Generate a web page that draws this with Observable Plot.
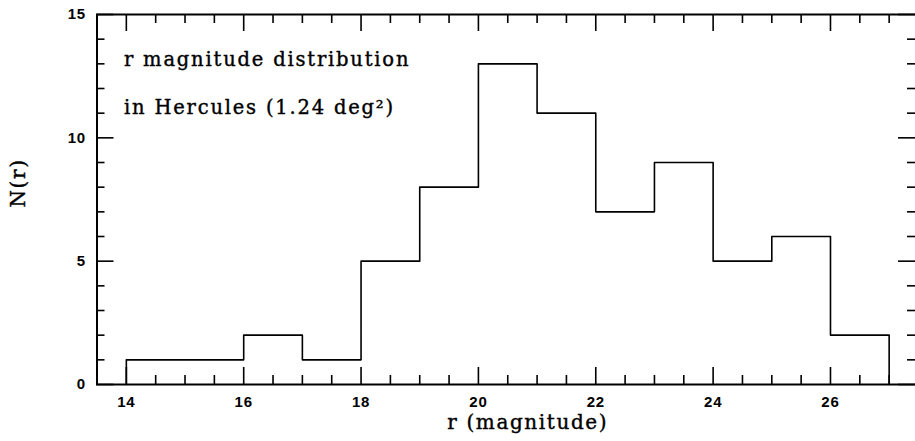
<!DOCTYPE html>
<html>
<head>
<meta charset="utf-8">
<script src="https://cdn.jsdelivr.net/npm/d3@7"></script>
<script src="https://cdn.jsdelivr.net/npm/@observablehq/plot@0.6"></script>
<style>
  html, body { margin: 0; padding: 0; background: #fff; }
  svg { display: block; }
  .note text { letter-spacing: 1.8px; }
  .atitle text { letter-spacing: 1.6px; }
  .tlab text { letter-spacing: 0.8px; }
</style>
</head>
<body>
<div id="chart"></div>
<script>
// Histogram bins (left edges, width 1 mag) and counts
const binStarts = [14, 15, 16, 17, 18, 19, 20, 21, 22, 23, 24, 25, 26];
const binWidth = 1;
const counts = [1, 1, 2, 1, 5, 8, 13, 11, 7, 9, 5, 6, 2];

// Tick labels
const xTickLabels = [14, 16, 18, 20, 22, 24, 26];
const yTickLabels = [0, 5, 10, 15];
const xMinorTicks = d3.range(14, 27.01, 0.5);
const yMinorTicks = d3.range(0, 15.01, 1);

const xLabel = "r (magnitude)";
const yLabel = "N(r)";
const note1 = "r magnitude distribution";
const note2 = "in Hercules (1.24 deg²)";

// Build step outline points from the bins
const pts = [{x: binStarts[0], y: 0}];
binStarts.forEach((s, i) => pts.push({x: s, y: counts[i]}));
const lastEdge = binStarts[binStarts.length - 1] + binWidth;
pts.push({x: lastEdge, y: counts[counts.length - 1]});
pts.push({x: lastEdge, y: 0});

const W = 915, H = 441;
const mL = 96.5, mR = -3, mT = 14, mB = 57;
const pw = W - mL - mR, ph = H - mT - mB;

const serif = "'DejaVu Serif', 'Liberation Serif', serif";
const sans = "'Liberation Sans', Arial, sans-serif";

const isMajorX = v => Math.abs(v / 2 - Math.round(v / 2)) < 1e-9;
const isMajorY = v => v % 5 === 0;

const chart = Plot.plot({
  width: W,
  height: H,
  marginLeft: mL,
  marginRight: mR,
  marginTop: mT,
  marginBottom: mB,
  x: {domain: [13.5, 27.5], axis: null},
  y: {domain: [0, 15], axis: null},
  style: {background: "#fff", color: "#000"},
  marks: [
    Plot.frame({stroke: "#000", strokeWidth: 2}),
    // bottom ticks (inward)
    Plot.tickX(xMinorTicks.filter(v => !isMajorX(v)), {x: d => d, insetTop: ph - 9, stroke: "#000", strokeWidth: 1.6}),
    Plot.tickX(xMinorTicks.filter(isMajorX), {x: d => d, insetTop: ph - 17, stroke: "#000", strokeWidth: 1.6}),
    // top ticks (inward)
    Plot.tickX(xMinorTicks.filter(v => !isMajorX(v)), {x: d => d, insetBottom: ph - 9, stroke: "#000", strokeWidth: 1.6}),
    Plot.tickX(xMinorTicks.filter(isMajorX), {x: d => d, insetBottom: ph - 17, stroke: "#000", strokeWidth: 1.6}),
    // left ticks
    Plot.tickY(yMinorTicks.filter(v => !isMajorY(v)), {y: d => d, insetRight: pw - 8, stroke: "#000", strokeWidth: 1.6}),
    Plot.tickY(yMinorTicks.filter(isMajorY), {y: d => d, insetRight: pw - 17, stroke: "#000", strokeWidth: 1.6}),
    // right ticks
    Plot.tickY(yMinorTicks.filter(v => !isMajorY(v)), {y: d => d, insetLeft: pw - 11, stroke: "#000", strokeWidth: 1.6}),
    Plot.tickY(yMinorTicks.filter(isMajorY), {y: d => d, insetLeft: pw - 20, stroke: "#000", strokeWidth: 1.6}),
    // histogram outline
    Plot.line(pts, {x: "x", y: "y", curve: "step-after", stroke: "#000", strokeWidth: 1.6}),
    // tick labels
    Plot.axisX(xTickLabels, {anchor: "bottom", tickSize: 0, tickPadding: 12, fontSize: 15, fontWeight: "bold", fontFamily: sans, label: null, className: "tlab"}),
    Plot.axisY(yTickLabels, {anchor: "left", tickSize: 0, tickPadding: 11, fontSize: 15, fontWeight: "bold", fontFamily: sans, label: null, className: "tlab"}),
    // axis titles
    Plot.text([xLabel], {frameAnchor: "bottom", dx: 20, dy: 44, text: d => d, fontSize: 20, fontFamily: serif, fill: "#000", stroke: "#000", strokeWidth: 0.4, className: "atitle"}),
    Plot.text([yLabel], {frameAnchor: "left", dx: -78, dy: 8, rotate: -90, text: d => d, fontSize: 20, fontFamily: serif, fill: "#000", stroke: "#000", strokeWidth: 0.4, className: "atitle"}),
    // annotations
    Plot.text([note1], {frameAnchor: "top-left", dx: 27, dy: 51, text: d => d, textAnchor: "start", lineAnchor: "bottom", fontSize: 19.5, fontFamily: serif, fill: "#000", stroke: "#000", strokeWidth: 0.4, className: "note"}),
    Plot.text([note2], {frameAnchor: "top-left", dx: 27, dy: 99, text: d => d, textAnchor: "start", lineAnchor: "bottom", fontSize: 19.5, fontFamily: serif, fill: "#000", stroke: "#000", strokeWidth: 0.4, className: "note"})
  ]
});
document.getElementById("chart").appendChild(chart);
</script>
</body>
</html>
